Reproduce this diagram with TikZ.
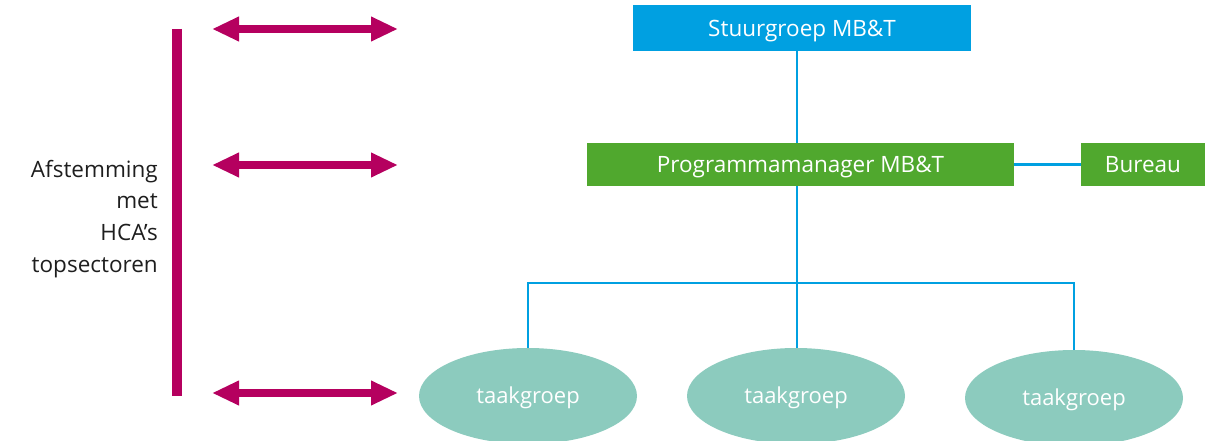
\documentclass[tikz,border=0pt]{standalone}
\usepackage{fontspec}
\setmainfont{Open Sans}
\usetikzlibrary{arrows.meta,shapes.geometric}

\definecolor{skyblue}{HTML}{00A0E1}
\definecolor{leafgreen}{HTML}{50A82E}
\definecolor{mint}{HTML}{8CCBBE}
\definecolor{berry}{HTML}{B5005F}
\definecolor{ink}{HTML}{1E1E1E}

\tikzset{
  boxlabel/.style={rectangle, inner sep=0pt, text=white,
    font=\fontsize{22.5}{27}\selectfont, text height=16.5pt, text depth=0pt},
  taskgroup/.style={ellipse, fill=mint, draw=none, inner sep=0pt,
    minimum width=218pt, minimum height=96pt, text=white,
    font=\fontsize{22}{26}\selectfont, text height=14pt, text depth=0pt},
  link/.style={draw=skyblue, line width=2.5pt},
  tuning/.style={draw=berry, line width=8pt,
    {Triangle[length=27pt,width=23pt]}-{Triangle[length=27pt,width=23pt]}},
}

\begin{document}
\begin{tikzpicture}[x=1pt, y=-1pt]
  \useasboundingbox (0,0) rectangle (1205,441);

  % organisation boxes
  \node[boxlabel, fill=skyblue, minimum width=338pt, minimum height=46pt]
    (sg) at (802,28) {Stuurgroep MB\&T};
  \node[boxlabel, fill=leafgreen, minimum width=427pt, minimum height=43pt]
    (pm) at (800.5,164.5) {Programmamanager MB\&T};
  \node[boxlabel, fill=leafgreen, minimum width=124pt, minimum height=43pt]
    (bu) at (1143,164.5) {Bureau};

  % task groups
  \node[taskgroup] (t1) at (528,396) {taakgroep};
  \node[taskgroup] (t2) at (796,396) {taakgroep};
  \node[taskgroup] (t3) at (1074,398) {taakgroep};

  % hierarchy lines
  \coordinate (hub) at (797,283);
  \draw[link] (hub |- sg.south) -- (hub |- pm.north);
  \draw[link] (hub |- pm.south) -- (hub |- t2.north);
  \draw[link] (t1.north) |- (hub) -| (t3.north);
  \draw[link] (pm.east) -- (bu.west);

  % alignment bar and its label
  \coordinate (bartop) at (177,29);
  \coordinate (barbot) at (177,396);
  \draw[draw=berry, line width=10pt] (bartop) -- (barbot);
  \node[anchor=east, inner sep=0pt, align=right, text=ink,
        font=\fontsize{22.5}{31.7}\selectfont] (lbl) at (158,218.7)
    {Afstemming\\met\\HCA’s\\topsectoren};

  % two-way arrows towards each level
  \coordinate (a1l) at (212,29);  \coordinate (a1r) at (398,29);
  \coordinate (a2l) at (212,165); \coordinate (a2r) at (398,165);
  \coordinate (a3l) at (212,393); \coordinate (a3r) at (398,393);
  \draw[tuning] (a1l) -- (a1r);
  \draw[tuning] (a2l) -- (a2r);
  \draw[tuning] (a3l) -- (a3r);
\end{tikzpicture}
\end{document}
